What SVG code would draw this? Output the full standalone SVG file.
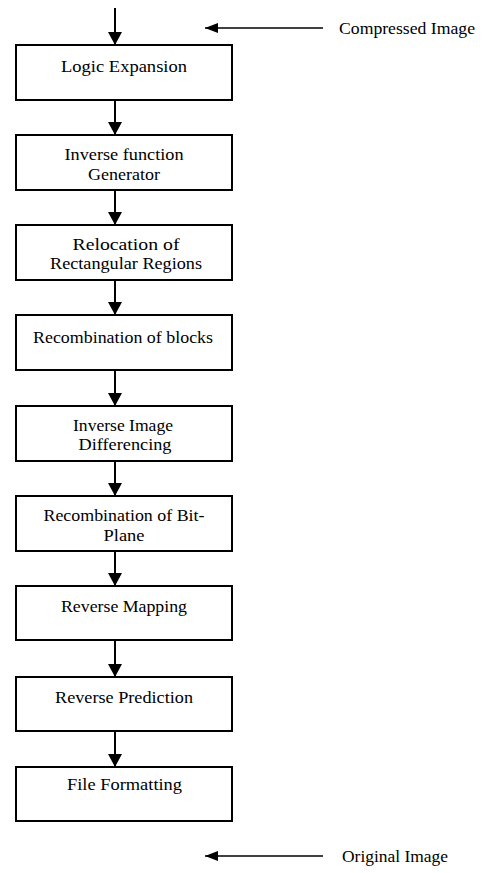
<svg xmlns="http://www.w3.org/2000/svg" width="485" height="873" viewBox="0 0 485 873">
<style>
.box{fill:#fff;stroke:#000;stroke-width:2}
.t{font-family:"Liberation Serif","Times New Roman",serif;font-size:17px;fill:#000;text-anchor:middle}
.s{font-size:16px}
.tl{font-family:"Liberation Serif","Times New Roman",serif;font-size:17px;fill:#000}
.c{stroke:#000;stroke-width:2;fill:none}
.h{stroke:#000;stroke-width:1.5;fill:none}
</style>
<defs>
<marker id="ah" viewBox="0 0 13 14" refX="13" refY="7" markerWidth="13" markerHeight="14" markerUnits="userSpaceOnUse" orient="auto"><path d="M0,0 L13,7 L0,14 z" fill="#000"/></marker>
<marker id="ahs" viewBox="0 0 13 10" refX="13" refY="5" markerWidth="13" markerHeight="10" markerUnits="userSpaceOnUse" orient="auto"><path d="M0,0 L13,5 L0,10 z" fill="#000"/></marker>
</defs>
<g id="connectors">
<line class="c" x1="115" y1="8" x2="115" y2="45" marker-end="url(#ah)"/>
<line class="c" x1="115" y1="100" x2="115" y2="135" marker-end="url(#ah)"/>
<line class="c" x1="115" y1="190" x2="115" y2="225" marker-end="url(#ah)"/>
<line class="c" x1="115" y1="280" x2="115" y2="315" marker-end="url(#ah)"/>
<line class="c" x1="115" y1="370" x2="115" y2="406" marker-end="url(#ah)"/>
<line class="c" x1="115" y1="461" x2="115" y2="496" marker-end="url(#ah)"/>
<line class="c" x1="115" y1="551" x2="115" y2="586" marker-end="url(#ah)"/>
<line class="c" x1="115" y1="640" x2="115" y2="677" marker-end="url(#ah)"/>
<line class="c" x1="115" y1="731" x2="115" y2="767" marker-end="url(#ah)"/>
<line class="h" x1="323" y1="28" x2="205" y2="28" marker-end="url(#ahs)"/>
<line class="h" x1="323" y1="856" x2="205" y2="856" marker-end="url(#ahs)"/>
</g>
<g id="n1"><rect class="box" x="16" y="45" width="216" height="55"/><text class="t" x="124" y="72" textLength="126" lengthAdjust="spacingAndGlyphs">Logic Expansion</text></g>
<g id="n2"><rect class="box" x="16" y="135" width="216" height="55"/><text class="t" x="124" y="160" textLength="119" lengthAdjust="spacingAndGlyphs">Inverse function</text><text class="t" x="124" y="180" textLength="72" lengthAdjust="spacingAndGlyphs">Generator</text></g>
<g id="n3"><rect class="box" x="16" y="225" width="216" height="55"/><text class="t s" x="126" y="250" textLength="107" lengthAdjust="spacingAndGlyphs">Relocation of</text><text class="t s" x="126" y="269" textLength="152" lengthAdjust="spacingAndGlyphs">Rectangular Regions</text></g>
<g id="n4"><rect class="box" x="16" y="315" width="216" height="55"/><text class="t" x="123" y="343" textLength="180" lengthAdjust="spacingAndGlyphs">Recombination of blocks</text></g>
<g id="n5"><rect class="box" x="16" y="406" width="216" height="55"/><text class="t" x="123" y="431" textLength="100" lengthAdjust="spacingAndGlyphs">Inverse Image</text><text class="t" x="125" y="450" textLength="93" lengthAdjust="spacingAndGlyphs">Differencing</text></g>
<g id="n6"><rect class="box" x="16" y="496" width="216" height="55"/><text class="t" x="124" y="521" textLength="161" lengthAdjust="spacingAndGlyphs">Recombination of Bit-</text><text class="t" x="124" y="541" textLength="41" lengthAdjust="spacingAndGlyphs">Plane</text></g>
<g id="n7"><rect class="box" x="16" y="586" width="216" height="54"/><text class="t" x="124" y="612" textLength="126" lengthAdjust="spacingAndGlyphs">Reverse Mapping</text></g>
<g id="n8"><rect class="box" x="16" y="677" width="216" height="54"/><text class="t" x="124" y="703" textLength="138" lengthAdjust="spacingAndGlyphs">Reverse Prediction</text></g>
<g id="n9"><rect class="box" x="16" y="767" width="216" height="54"/><text class="t" x="124.5" y="790" textLength="115" lengthAdjust="spacingAndGlyphs">File Formatting</text></g>
<g id="in"><text class="tl" x="339" y="34" textLength="136" lengthAdjust="spacingAndGlyphs">Compressed Image</text></g>
<g id="out"><text class="tl" x="342" y="862" textLength="106" lengthAdjust="spacingAndGlyphs">Original Image</text></g>
</svg>
